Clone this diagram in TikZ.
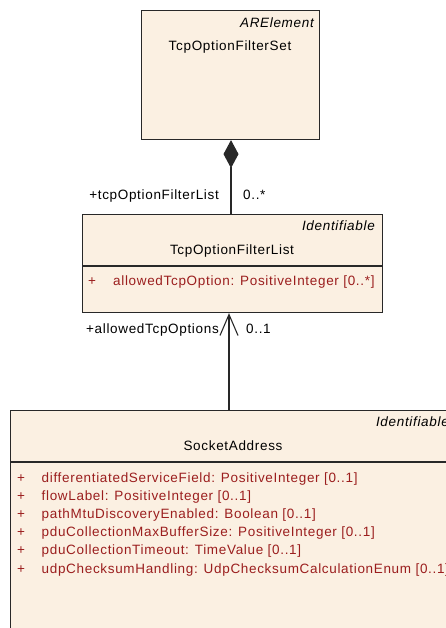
\documentclass[tikz,border=0pt]{standalone}
\usepackage{fontspec}
\setmainfont{Liberation Sans}
\newfontfamily\umlfont[LetterSpace=5]{Liberation Sans}
\usetikzlibrary{arrows.meta}
\definecolor{umlfill}{RGB}{251,240,226}
\definecolor{umlattr}{RGB}{155,30,30}
\definecolor{umlline}{RGB}{40,40,40}
\tikzset{
  classbox/.style={draw=umlline, line width=1.1pt, fill=umlfill, anchor=north west, inner sep=0pt},
  sepline/.style={draw=umlline, line width=1.1pt},
  txt/.style={inner sep=0pt, font=\umlfont\fontsize{13.5}{15}\selectfont, text=black},
  stereo/.style={txt, font=\umlfont\itshape\fontsize{13.5}{15}\selectfont, anchor=base east},
  cname/.style={txt, anchor=base},
  attr/.style={txt, text=umlattr, anchor=base west},
  lbl/.style={txt},
  conn/.style={draw=umlline, line width=1.1pt},
}
\begin{document}
\begin{tikzpicture}[x=1pt,y=-1pt]
\clip (0,0) rectangle (446,628);
% TcpOptionFilterSet
\node[classbox, minimum width=178pt, minimum height=129pt] (set) at (141,10) {};
\node[stereo] (setst) at (314,27.5) {ARElement};
\node[cname] (setnm) at (230,51) {TcpOptionFilterSet};
% TcpOptionFilterList
\node[classbox, minimum width=300pt, minimum height=98pt] (list) at (82,214) {};
\draw[sepline] (list.west |- 0,266) -- (list.east |- 0,266);
\node[stereo] (listst) at (375,230) {Identifiable};
\node[cname] (listnm) at (232,254) {TcpOptionFilterList};
\node[attr] (lista) at (88,285.5) {+};
\node[attr] (listb) at (113,285.5) {allowedTcpOption: PositiveInteger [0..*]};
% SocketAddress
\node[classbox, minimum width=446pt, minimum height=240pt] (sock) at (10,410) {};
\draw[sepline] (sock.west |- 0,462) -- (sock.east |- 0,462);
\node[stereo] (sockst) at (449,426) {Identifiable};
\node[cname] (socknm) at (233,450) {SocketAddress};
\foreach \t [count=\i from 0] in {differentiatedServiceField: PositiveInteger [0..1],
  flowLabel: PositiveInteger [0..1],
  pathMtuDiscoveryEnabled: Boolean [0..1],
  pduCollectionMaxBufferSize: PositiveInteger [0..1],
  pduCollectionTimeout: TimeValue [0..1],
  udpChecksumHandling: UdpChecksumCalculationEnum [0..1]}{
  \node[attr] (sp\i) at (17,482+18.2*\i) {+};
  \node[attr] (sa\i) at (41.5,482+18.2*\i) {\t};
}
% connectors
\coordinate (c1) at (231,0);
\coordinate (c2) at (229,0);
\draw[conn, {Diamond[length=28pt,width=15pt]}-] (c1 |- set.south) -- (c1 |- list.north);
\node[lbl, anchor=base east] (r1) at (219,200) {+tcpOptionFilterList};
\node[lbl, anchor=base west] (m1) at (243,200) {0..*};
\draw[conn, {Straight Barb[length=21pt,width=18pt,line width=1.1pt]}-] (c2 |- list.south) -- (c2 |- sock.north);
\node[lbl, anchor=base east] (r2) at (219,333) {+allowedTcpOptions};
\node[lbl, anchor=base west] (m2) at (246,333) {0..1};
\end{tikzpicture}
\end{document}
